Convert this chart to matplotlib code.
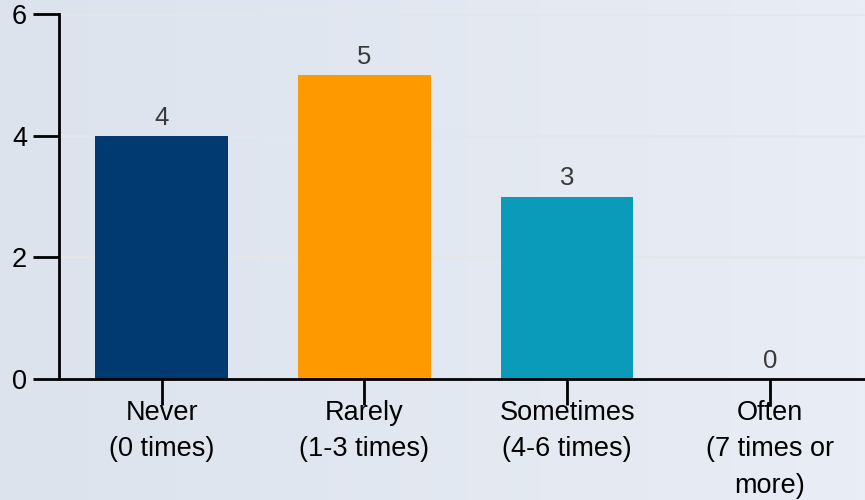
import numpy as np
import matplotlib
matplotlib.use('Agg')
from matplotlib import pyplot as plt

categories = ['Never\n(0 times)', 'Rarely\n(1-3 times)', 'Sometimes\n(4-6 times)', 'Often\n(7 times or\nmore)']
counts = [4, 5, 3, 0]
colors = ['#003A70', '#FF9900', '#0A9BBA', '#0A9BBA']
yticks = [0, 2, 4, 6]

plt.rcParams['font.family'] = ['Liberation Sans', 'DejaVu Sans']

fig = plt.figure(figsize=(8.65, 5), dpi=100)

# background gradient
bg = fig.add_axes([0, 0, 1, 1], zorder=-10)
grad = np.linspace(0, 1, 256).reshape(1, -1)
cmap = matplotlib.colors.LinearSegmentedColormap.from_list('bg', ['#dce3ed', '#e9edf5'])
bg.imshow(grad, aspect='auto', cmap=cmap, extent=[0, 1, 0, 1])
bg.axis('off')

ax = fig.add_axes([59 / 865, 1 - 379 / 500, 1 - 59 / 865, 365 / 500])
ax.patch.set_alpha(0)

x = np.arange(len(categories))
bars = ax.bar(x, counts, width=0.655, color=colors, zorder=3)

for xi, v in zip(x, counts):
    ax.text(xi, v + 0.1, str(v), ha='center', va='bottom', fontsize=18.5, color='#3a3a3a')

ax.set_xlim(-0.507, 3.47)
ax.set_ylim(0, 6)
ax.set_yticks(yticks)
ax.set_xticks(x)
ax.set_xticklabels(categories, fontsize=19.5, linespacing=1.52)
ax.tick_params(axis='y', labelsize=19.5, length=19, width=2, pad=4)
ax.tick_params(axis='x', length=19, width=2, pad=-4)

for yv in yticks[1:]:
    ax.axhline(yv, color='#e3e6ea', lw=2, zorder=1)

ax.spines['top'].set_visible(False)
ax.spines['right'].set_visible(False)
ax.spines['left'].set_linewidth(2)
ax.spines['bottom'].set_linewidth(2)
ax.spines['bottom'].set_zorder(4)

fig.savefig('out.png', dpi=100)
